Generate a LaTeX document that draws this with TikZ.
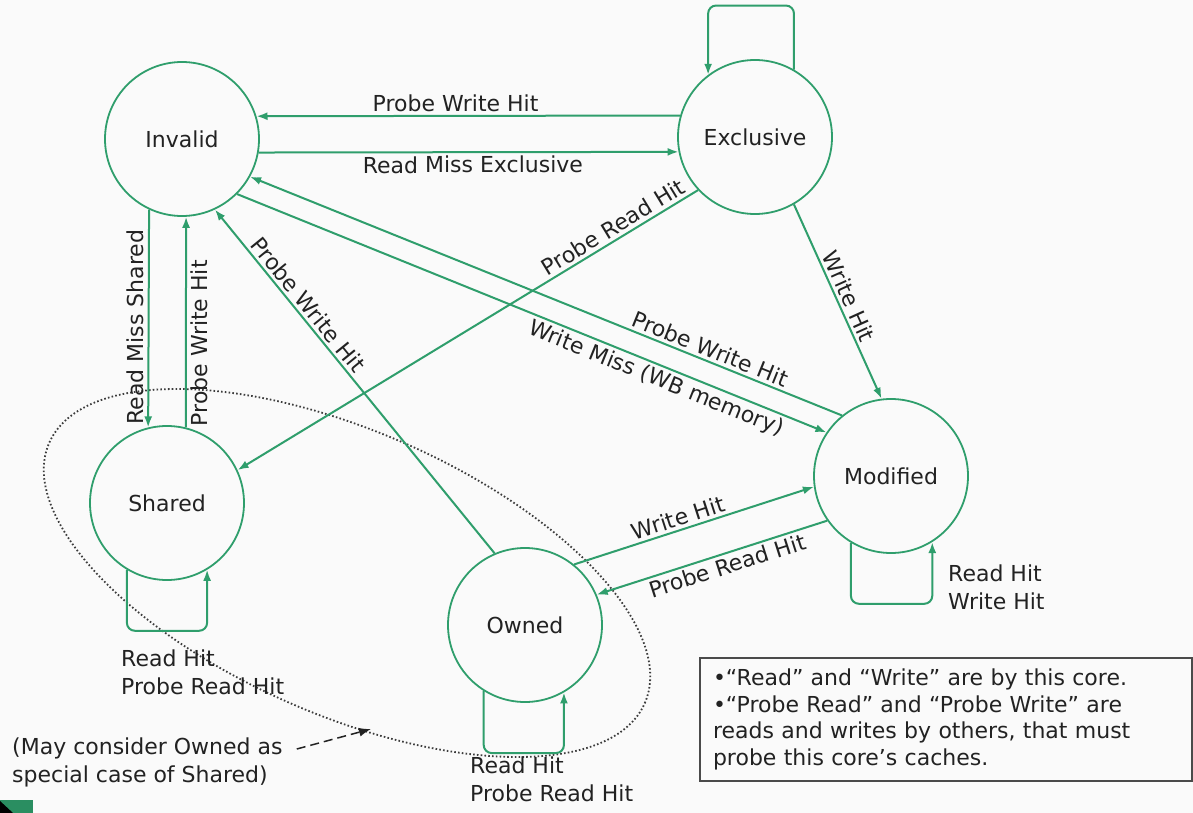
\documentclass[tikz,border=0pt]{standalone}
\usepackage{fontspec,xcolor,tikz}
\setmainfont{DejaVu Sans}
\usetikzlibrary{arrows.meta,calc}
\definecolor{ink}{HTML}{222222}
\definecolor{leaf}{HTML}{2F9E6C}
\definecolor{paper}{HTML}{FAFAFA}
\definecolor{rim}{HTML}{4A4A4A}
\definecolor{dots}{HTML}{3C3C3C}
\newcommand{\lbl}{\fontsize{22}{28}\selectfont}
\newcommand{\notefont}{\fontsize{22}{26.7}\selectfont}

\begin{document}
\begin{tikzpicture}[x=1pt,y=-1pt,font=\lbl,text=ink,
  state/.style={circle,draw=leaf,line width=1.8pt,minimum size=154pt,inner sep=0pt},
  trans/.style={draw=leaf,line width=2pt,-{Latex[length=11pt,width=8pt]}},
  selfloop/.style={trans,rounded corners=8pt},
  tag/.style={inner sep=3pt,sloped,text=ink},
  hits/.style={anchor=north west,inner sep=0pt,align=left}]
\fill[paper] (0,0) rectangle (1193,813);
\useasboundingbox (0,0) rectangle (1193,813);

\node[state] (invalid) at (182,139) {Invalid};
\node[state] (exclusive) at (755,137) {Exclusive};
\node[state] (shared) at (167,503) {Shared};
\node[state] (owned) at (525,625) {Owned};
\node[state] (modified) at (891,476) {Modified};

\draw[dots,line width=1.8pt,dash pattern=on 1.6pt off 2.2pt,rotate around={-23.6:(347,573)}] (347,573) ellipse [x radius=325pt,y radius=142pt];

\draw[trans] (exclusive.164) -- node[tag,above,pos=0.53] {Probe Write Hit} (invalid.17);
\draw[trans] (invalid.350) -- node[tag,below,pos=0.51] {Read Miss Exclusive} (exclusive.191);
\draw[selfloop] (exclusive.60) -- ++(0,-64) -| (exclusive.127);
\draw[trans] (invalid.245) -- node[pos=0.54,rotate=90,anchor=south,inner sep=4pt,text=ink] {Read Miss Shared} (shared.104);
\draw[trans] (shared.76) -- node[pos=0.40,rotate=90,anchor=north,inner sep=4pt,text=ink] {Probe Write Hit} (invalid.273);
\draw[trans] (owned.113) -- node[tag,above,pos=0.70] {Probe Write Hit} (invalid.295);
\draw[trans] (exclusive.223) -- node[tag,above,pos=0.17] {Probe Read Hit} (shared.25);
\draw[trans] (modified.129) -- node[tag,above,pos=0.23] {Probe Write Hit} (invalid.331);
\draw[trans] (invalid.315) -- node[tag,below,pos=0.72] {Write Miss (WB memory)} (modified.146);
\draw[trans] (exclusive.300) -- node[tag,above,pos=0.50] {Write Hit} (modified.97);
\draw[trans] (owned.51) -- node[tag,above,pos=0.45] {Write Hit} (modified.188);
\draw[trans] (modified.215) -- node[tag,below,pos=0.45] {Probe Read Hit} (owned.23);

\draw[selfloop] (shared.239) -- ++(0,61) -| (shared.301);
\draw[selfloop] (owned.238) -- ++(0,62) -| (owned.300);
\draw[selfloop] (modified.239) -- ++(0,61) -| (modified.302);
\node[hits] (sharedhits) at (121,650) {Read Hit\\Probe Read Hit};
\node[hits] (ownedhits) at (470,757) {Read Hit\\Probe Read Hit};
\node[hits] (modifiedhits) at (948,565) {Read Hit\\Write Hit};

\node[hits] (maycase) at (12,738) {(May consider Owned as\\special case of Shared)};
\coordinate (maytip) at (371,729);
\draw[ink,line width=1.5pt,dash pattern=on 9pt off 5pt,-{Latex[length=12pt,width=9pt]}] ($(maycase.north east)+(14,11)$) -- (maytip);

\node[draw=rim,line width=2pt,anchor=north west,minimum width=492pt,minimum height=123pt,
  text width=466pt,inner xsep=13pt,align=left,font=\notefont] (legend) at (699,657)
  {•“Read” and “Write” are by this core.\\•“Probe Read” and “Probe Write” are\\reads and writes by others, that must\\probe this core’s caches.};

\fill[leaf!90!black] (0,800) rectangle (33,813);
\fill[black] (0,801) -- (13,813) -- (0,813) -- cycle;
\end{tikzpicture}
\end{document}
